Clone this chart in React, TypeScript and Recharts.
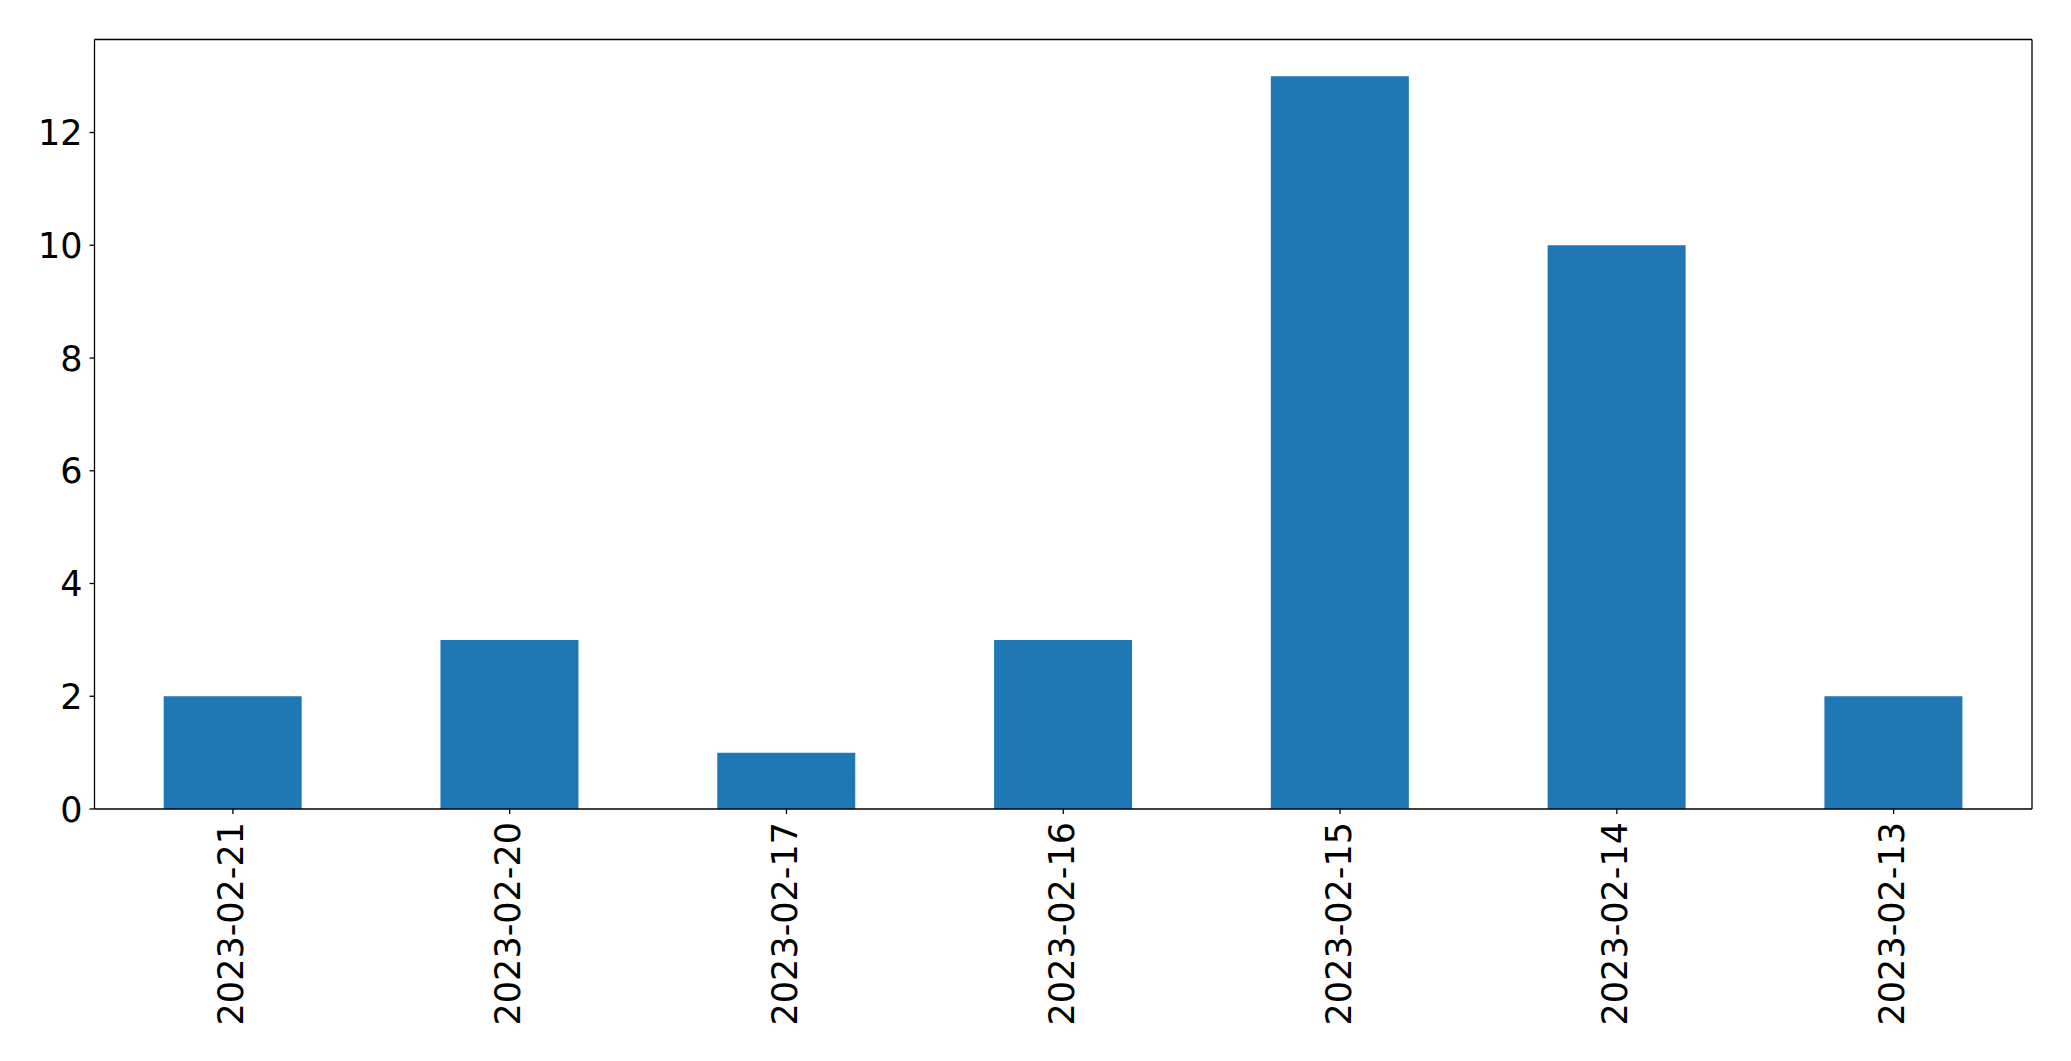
import React from 'react';
import { BarChart, Bar, XAxis, YAxis, CartesianGrid } from 'recharts';

// Dates, in the order they appear on the x axis
const dates = [
  '2023-02-21',
  '2023-02-20',
  '2023-02-17',
  '2023-02-16',
  '2023-02-15',
  '2023-02-14',
  '2023-02-13',
];

// Count per date
const counts = [2, 3, 1, 3, 13, 10, 2];

const yTicks = [0, 2, 4, 6, 8, 10, 12];

const FONT = '"DejaVu Sans", sans-serif';
const FONT_SIZE = 35;
const AXIS = { stroke: '#000', strokeWidth: 1.3 };

const data = dates.map((d, i) => ({ date: d, count: counts[i] }));

// eslint-disable-next-line @typescript-eslint/no-explicit-any
const XTick = ({ x, y, payload }: any) => (
  <text
    x={x}
    y={y}
    transform={`rotate(-90, ${x}, ${y})`}
    textAnchor="end"
    dy="0.3em"
    fontFamily={FONT}
    fontSize={FONT_SIZE}
    fill="#000"
  >
    {payload.value}
  </text>
);

// eslint-disable-next-line @typescript-eslint/no-explicit-any
const YTick = ({ x, y, payload }: any) => (
  <text
    x={x}
    y={y}
    textAnchor="end"
    dy="0.36em"
    fontFamily={FONT}
    fontSize={FONT_SIZE}
    fill="#000"
  >
    {payload.value}
  </text>
);

export default function App() {
  return (
    <div style={{ position: 'absolute', left: 0, top: 0, background: '#fff' }}>
      <BarChart
        width={2071}
        height={1061}
        data={data}
        margin={{ top: 39.5, right: 39, bottom: 0, left: 0 }}
        barCategoryGap="25%"
      >
        {/* top and right spines of the frame */}
        <CartesianGrid
          stroke="#000"
          strokeWidth={1.3}
          // eslint-disable-next-line @typescript-eslint/no-explicit-any
          horizontalCoordinatesGenerator={({ offset }: any) => [offset.top]}
          // eslint-disable-next-line @typescript-eslint/no-explicit-any
          verticalCoordinatesGenerator={({ offset }: any) => [offset.left + offset.width]}
        />
        <XAxis
          dataKey="date"
          height={252}
          interval={0}
          tickSize={5}
          tickMargin={8}
          tick={<XTick />}
          axisLine={AXIS}
          tickLine={AXIS}
        />
        <YAxis
          width={94.5}
          domain={[0, 13.65]}
          ticks={yTicks}
          allowDataOverflow
          tickSize={5}
          tickMargin={7}
          tick={<YTick />}
          axisLine={AXIS}
          tickLine={AXIS}
        />
        <Bar dataKey="count" fill="#1f77b4" isAnimationActive={false} />
      </BarChart>
    </div>
  );
}
